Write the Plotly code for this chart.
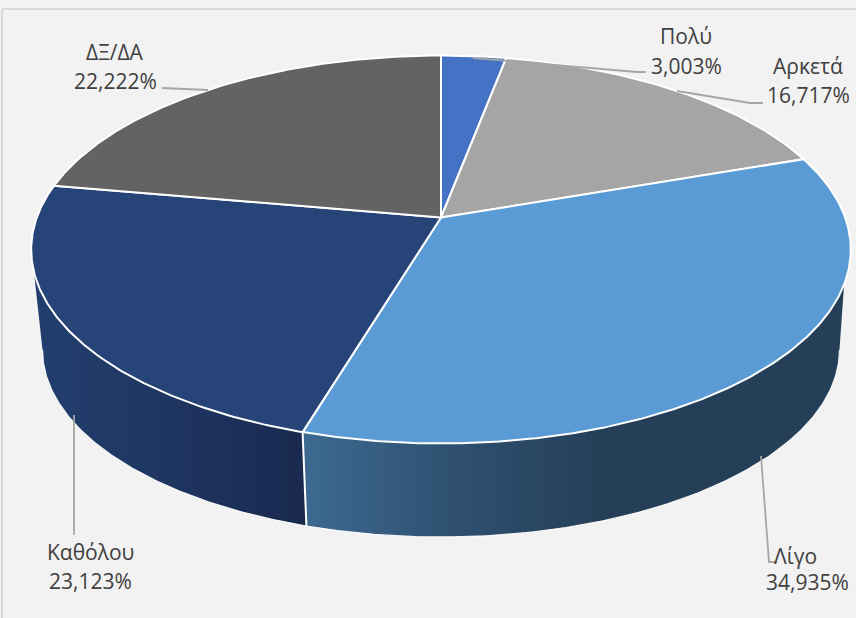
import numpy as np
import plotly.graph_objects as go

categories = ["Πολύ", "Αρκετά", "Λίγο", "Καθόλου", "ΔΞ/ΔΑ"]
values = [3.003, 16.717, 34.935, 23.123, 22.222]
value_labels = ["3,003%", "16,717%", "34,935%", "23,123%", "22,222%"]
colors = ["#4472c4", "#a5a5a5", "#5b9bd5", "#264478", "#636363"]

W, H = 856, 618
CX = 441
K = 0.165
TOP = dict(y0=217.5, a=404.2, b=188.7)
BOT = dict(y0=319, a=393, b=182)


def rim(theta_deg, g):
    t = np.radians(theta_deg)
    d = 1 + K * np.cos(t)
    return CX + g["a"] * np.sin(t) / d, g["y0"] - g["b"] * np.cos(t) / d


def arc(a0, a1, g):
    n = max(int(abs(a1 - a0) * 2), 2)
    return rim(np.linspace(a0, a1, n), g)


edges = np.concatenate([[0], np.cumsum(values)]) / sum(values) * 360
fig = go.Figure()


def wall(top_a0, top_a1, bot_a0, bot_a1, c_scale, x0, x1):
    xt, yt = arc(top_a0, top_a1, TOP)
    xb, yb = arc(bot_a1, bot_a0, BOT)
    fig.add_trace(go.Scatter(
        x=np.concatenate([xt, xb, xt[:1]]), y=np.concatenate([yt, yb, yt[:1]]),
        mode="lines", line=dict(width=0), fill="toself",
        fillgradient=dict(type="horizontal", colorscale=c_scale, start=x0, stop=x1),
        hoverinfo="skip"))
    xl, yl = arc(bot_a0, bot_a1, BOT)
    fig.add_trace(go.Scatter(x=xl, y=yl, mode="lines",
                             line=dict(color="rgba(255,255,255,0.9)", width=1.2), hoverinfo="skip"))


# side walls of the two front slices
a_ligo1 = edges[3]
wall(109.6, a_ligo1, 99.5, a_ligo1,
     [[0, "#3d6a91"], [0.5, "#2e4f6f"], [1, "#243f57"]], 303, 610)
wall(a_ligo1, 254, a_ligo1, 260.5,
     [[0, "#223e6e"], [0.5, "#1e3560"], [1, "#19294f"]], 42, 306)
# divider between the two walls
xd = [rim(a_ligo1, TOP)[0], rim(a_ligo1, BOT)[0]]
yd = [rim(a_ligo1, TOP)[1], rim(a_ligo1, BOT)[1]]
fig.add_trace(go.Scatter(x=xd, y=yd, mode="lines", line=dict(color="white", width=2), hoverinfo="skip"))

# top face slices
for i, (name, c) in enumerate(zip(categories, colors)):
    x, y = arc(edges[i], edges[i + 1], TOP)
    fig.add_trace(go.Scatter(
        x=np.concatenate([[CX], x, [CX]]), y=np.concatenate([[TOP["y0"]], y, [TOP["y0"]]]),
        mode="lines", line=dict(color="white", width=2), fill="toself", fillcolor=c,
        name=name, hoverinfo="name"))

# leader lines
leaders = [
    ([473, 637, 646], [58, 72, 72]),
    ([677, 750, 763], [91, 103, 103]),
    ([761, 769, 777], [456, 562, 562]),
    ([74, 74], [415, 535]),
    ([162, 208], [88, 90]),
]
for lx, ly in leaders:
    fig.add_trace(go.Scatter(x=lx, y=ly, mode="lines", line=dict(color="#a6a6a6", width=1.8), hoverinfo="skip"))

# labels: (category centre x, y), (value centre x, y)
label_pos = [
    ((686, 36), (686, 66)),
    ((808, 66), (808, 95)),
    ((795, 556), (807, 582)),
    ((90, 552), (90, 581)),
    ((115, 52), (115, 81)),
]
for name, vlab, (p1, p2) in zip(categories, value_labels, label_pos):
    for txt, p in ((name, p1), (vlab, p2)):
        fig.add_annotation(x=p[0], y=p[1], text=txt, showarrow=False, xanchor="center", yanchor="middle",
                           font=dict(family="Open Sans", size=21, color="#404040"))

fig.update_layout(
    width=W, height=H, margin=dict(l=0, r=0, t=0, b=0), showlegend=False,
    paper_bgcolor="#f2f2f2", plot_bgcolor="#f2f2f2",
    xaxis=dict(range=[0, W], visible=False, fixedrange=True),
    yaxis=dict(range=[H, 0], visible=False, fixedrange=True),
    shapes=[dict(type="line", xref="x", yref="y", x0=2, x1=2, y0=9, y1=H, line=dict(color="#d9d9d9", width=2)),
            dict(type="line", xref="x", yref="y", x0=2, x1=W, y0=9, y1=9, line=dict(color="#d9d9d9", width=2))],
)
fig.write_html("out.html", config={"displayModeBar": False},
               post_script="document.body.style.margin='0';document.documentElement.style.overflow='hidden';")
